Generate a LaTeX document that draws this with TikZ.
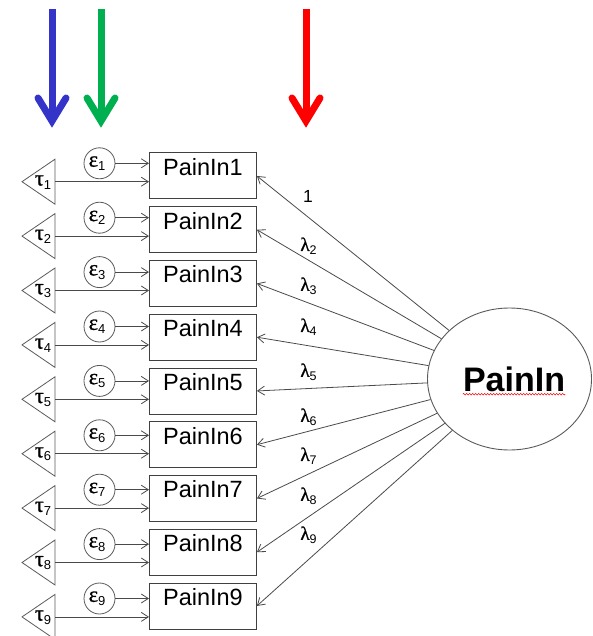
\documentclass[tikz,border=0pt]{standalone}
\usepackage{fontspec}
\setmainfont{Liberation Sans}
\newfontfamily\greekfont[FakeBold=1.2]{Liberation Serif}
\usetikzlibrary{arrows.meta,shapes.geometric,decorations.pathmorphing}

\definecolor{linegray}{HTML}{4A4A4A}
\definecolor{boxgray}{HTML}{404040}
\definecolor{ellgray}{HTML}{5A5A5A}
\definecolor{arrblue}{HTML}{3434C8}
\definecolor{arrgreen}{HTML}{00B050}
\definecolor{arrred}{HTML}{FF0000}

% Greek symbol followed by a lowered sans-serif index
\newcommand\grsub[4]{{\fontsize{#3}{#3}\greekfont #1}\raisebox{-0.36em}{\fontsize{#4}{#4}\selectfont #2}}

\begin{document}
\begin{tikzpicture}[x=1pt,y=-1pt,
  obs/.style={draw=boxgray, line width=0.9pt, minimum width=107pt,
    minimum height=46pt, inner sep=0pt, anchor=north west},
  obstext/.style={font=\fontsize{23.5}{26}\selectfont, inner sep=0pt},
  errc/.style={draw=ellgray, line width=0.8pt, circle, minimum size=31pt, inner sep=0pt},
  tri/.style={draw=ellgray, line width=0.8pt, line join=miter},
  arr/.style={draw=linegray, line width=0.8pt,
    -{Straight Barb[length=7pt,width=9pt,line width=0.8pt]}},
  lat/.style={draw=ellgray, line width=0.9pt, ellipse, minimum width=164pt,
    minimum height=142pt, inner sep=0pt},
  lab/.style={inner sep=0pt},
  bigshaft/.style={line width=7pt, line cap=butt},
  bighead/.style={line width=7pt, line cap=round, line join=miter},
]
\useasboundingbox (0,0) rectangle (592,636);

% colored pointer arrows at the top
\foreach \nm/\xx/\cc in {pb/52/arrblue, pg/101/arrgreen, pr/306/arrred} {
  \coordinate (\nm s) at (\xx,9);
  \coordinate (\nm t) at (\xx,121);
  \draw[bigshaft, \cc] (\nm s) -- (\nm t);
  \draw[bighead, \cc] ([shift={(-14,-23)}]\nm t) -- (\nm t) -- ([shift={(14,-23)}]\nm t);
}

% latent factor
\node[lat] (F) at (509.5,379) {};
\node[inner sep=0pt, font=\fontsize{34}{34}\selectfont\bfseries] (Fl) at (514,379) {PainIn};
\draw[red, line width=0.5pt, decorate,
  decoration={snake, amplitude=0.8pt, segment length=3pt}]
  ([yshift=-3pt]Fl.base west) -- ([yshift=-3pt]Fl.base east);

% indicators, errors and intercepts
\foreach \i in {1,...,9} {
  \pgfmathsetmacro\bt{152.5+(\i-1)*53.75}
  \pgfmathsetmacro\ey{163.3+(\i-1)*54.4}
  \pgfmathsetmacro\ty{181.7+(\i-1)*54.4}
  \node[obs] (b\i) at (149,\bt) {};
  \node[obstext, yshift=9pt] (bl\i) at (b\i.center) {PainIn\i};
  \node[errc] (e\i) at (99.5,\ey) {};
  \node[lab] (el\i) at (97,\ey) {\grsub{ε}{\i}{22}{13}};
  \coordinate (ta\i) at (22,\ty);
  \coordinate (tu\i) at (55,\ty-22.5);
  \coordinate (td\i) at (55,\ty+22.5);
  \coordinate (ts\i) at (55,\ty);
  \draw[tri] (tu\i) -- (ta\i) -- (td\i) -- cycle;
  \node[lab] (tl\i) at (43,\ty+0.5) {\grsub{τ}{\i}{22}{13}};
  \draw[arr] (e\i) -- (e\i -| b\i.west);
  \draw[arr] (ts\i) -- (ts\i -| b\i.west);
  \draw[arr] (F) -- (b\i.east);
}

% loading labels
\node[lab, font=\fontsize{17.5}{17.5}\selectfont] (l1) at (308,196) {1};
\foreach \i/\yy in {2/246, 3/286, 4/327, 5/372, 6/417, 7/456, 8/496, 9/535} {
  \node[lab] (l\i) at (308.5,\yy) {\grsub{λ}{\i}{19}{12.5}};
}
\end{tikzpicture}
\end{document}
